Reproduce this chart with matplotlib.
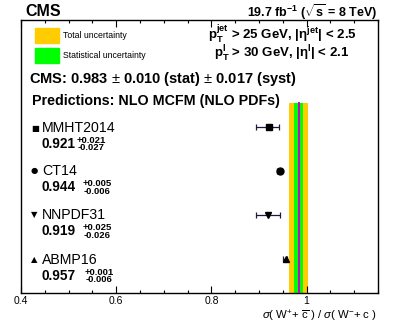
import matplotlib
matplotlib.use("Agg")
import matplotlib.pyplot as plt
from matplotlib.ticker import MultipleLocator, FixedLocator
from matplotlib.patches import Rectangle

plt.rcParams['font.family'] = ['Liberation Sans', 'DejaVu Sans']
plt.rcParams['mathtext.fontset'] = 'custom'
plt.rcParams['mathtext.rm'] = 'Liberation Sans'
plt.rcParams['mathtext.it'] = 'Liberation Sans:italic'
plt.rcParams['mathtext.bf'] = 'Liberation Sans:bold'

# measurement
cms_val = 0.983
cms_stat = 0.010
cms_syst = 0.017
cms_tot = (cms_stat**2 + cms_syst**2) ** 0.5

# predictions
pdf_names = ['MMHT2014', 'CT14', 'NNPDF31', 'ABMP16']
pdf_symbols = ['\u25a0', '\u25cf', '\u25bc', '\u25b2']
pdf_markers = ['s', 'o', 'v', '^']
pdf_vals = [0.921, 0.944, 0.919, 0.957]
pdf_up = [0.021, 0.005, 0.025, 0.001]
pdf_dn = [0.027, 0.006, 0.026, 0.006]
pdf_y = [4, 3, 2, 1]

W, H = 399, 328
fig = plt.figure(figsize=(W / 100, H / 100), dpi=100)
ax = fig.add_axes([21 / W, 1 - 293 / H, 357 / W, 273 / H])

ylo, yhi = 0.22, 6.43
band_top = 4.55
ax.set_xlim(0.4, 1.15)
ax.set_ylim(ylo, yhi)

# uncertainty bands
ax.fill_betweenx([ylo, band_top], cms_val - cms_tot, cms_val + cms_tot,
                 color='#ffcc00', lw=0, zorder=1)
ax.fill_betweenx([ylo, band_top], cms_val - cms_stat, cms_val + cms_stat,
                 color='#00ff00', lw=0, zorder=2)
ax.plot([cms_val, cms_val], [ylo, band_top], color='#cc00cc', lw=1.4, zorder=3)

for v, u, d, y, m in zip(pdf_vals, pdf_up, pdf_dn, pdf_y, pdf_markers):
    ax.errorbar([v], [y], xerr=[[d], [u]], fmt=m, color='black', ms=5,
                ecolor='#1a1a40', elinewidth=0.9, capsize=2, capthick=0.9,
                zorder=5)

ax.set_yticks([])
ax.xaxis.set_major_locator(FixedLocator([0.4, 0.6, 0.8, 1.0]))
ax.set_xticklabels(['0.4', '0.6', '0.8', '1'])
ax.xaxis.set_minor_locator(MultipleLocator(0.05))
ax.tick_params(axis='x', which='both', direction='in', top=True, labelsize=7.5,
               pad=2.5, width=0.8)
ax.tick_params(axis='x', which='major', length=5)
ax.tick_params(axis='x', which='minor', length=2.5)
for s in ax.spines.values():
    s.set_linewidth(1.0)


def px(x, y):
    return x / W, 1 - y / H


fig.text(*px(25, 11), 'CMS', fontsize=11.5, fontweight='bold', va='center')
fig.text(*px(377, 12), r'19.7 fb$^{\mathbf{-1}}$ ($\sqrt{\mathbf{s}}$ = 8 TeV)',
         fontsize=9, fontweight='bold', va='center', ha='right')

# legend boxes
fig.patches.append(Rectangle(px(35, 43), 24 / W, 15 / H, transform=fig.transFigure,
                             color='#ffcc00', zorder=5))
fig.patches.append(Rectangle(px(35, 63), 24 / W, 15 / H, transform=fig.transFigure,
                             color='#00ff00', zorder=5))
fig.text(*px(63, 36), 'Total uncertainty', fontsize=6.3, va='center')
fig.text(*px(63, 56), 'Statistical uncertainty', fontsize=6.3, va='center')

fig.text(*px(282, 34),
         r'$\mathbf{p_{T}^{jet}}$ > 25 GeV, |$\mathbf{\eta^{jet}}$| < 2.5',
         fontsize=9.5, fontweight='bold', va='center', ha='center')
fig.text(*px(282, 54),
         r'$\mathbf{p_{T}^{l}}$ > 30 GeV, |$\mathbf{\eta^{l}}$| < 2.1',
         fontsize=9.5, fontweight='bold', va='center', ha='center')

fig.text(*px(29, 79),
         'CMS: %.3f $\\pm$ %.3f (stat) $\\pm$ %.3f (syst)' % (cms_val, cms_stat, cms_syst),
         fontsize=10.5, fontweight='bold', va='center')
fig.text(*px(32, 101), 'Predictions: NLO MCFM (NLO PDFs)',
         fontsize=10.3, fontweight='bold', va='center')

# prediction labels
label_rows = [128, 171, 215, 260]
sup_x = [77, 83, 83, 85]
for name, sym, v, u, d, yr, sx in zip(pdf_names, pdf_symbols, pdf_vals, pdf_up,
                                       pdf_dn, label_rows, sup_x):
    fig.text(*px(31, yr), sym, fontsize=6, va='center',
             family=['DejaVu Sans'])
    fig.text(*px(42, yr), name, fontsize=10.2, va='center')
    fig.text(*px(42, yr + 16), '%.3f' % v, fontsize=9.8, fontweight='bold',
             va='center')
    fig.text(*px(sx, yr + 12.5), '+%.3f' % u, fontsize=6.8, fontweight='bold',
             va='center')
    fig.text(*px(sx + 1, yr + 20), '-%.3f' % d, fontsize=6.8, fontweight='bold',
             va='center')

fig.text(*px(377, 316),
         r'$\sigma$( W$^{+}$+ $\overline{\mathrm{c}}$ ) / $\sigma$( W$^{-}$+ c )',
         fontsize=8.2, va='center', ha='right')

fig.savefig('out.png', dpi=100)
